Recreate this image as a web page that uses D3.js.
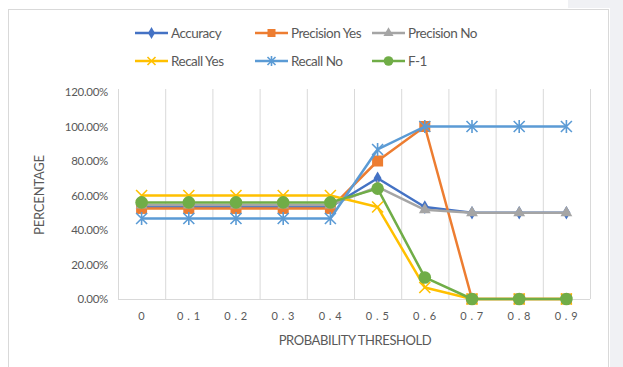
<!DOCTYPE html>
<html>
<head>
<meta charset="utf-8">
<script src="https://cdn.jsdelivr.net/npm/d3@7"></script>
<style>
  html, body { margin: 0; padding: 0; background: #ffffff; }
  svg { display: block; }
  text { font-family: Lato, "Open Sans", sans-serif; fill: #595959; }
</style>
</head>
<body>
<svg id="chart" width="623" height="367"></svg>
<script>
// Probability thresholds (categories)
const thresholds = ["0", "0.1", "0.2", "0.3", "0.4", "0.5", "0.6", "0.7", "0.8", "0.9"];

// Metric values per threshold (fractions)
const accuracy     = [0.533, 0.533, 0.533, 0.533, 0.533, 0.70, 0.533, 0.50, 0.50, 0.50];
const precisionYes = [0.525, 0.525, 0.525, 0.525, 0.525, 0.80, 1.00, 0.00, 0.00, 0.00];
const precisionNo  = [0.545, 0.545, 0.545, 0.545, 0.545, 0.65, 0.517, 0.50, 0.50, 0.50];
const recallYes    = [0.60, 0.60, 0.60, 0.60, 0.60, 0.533, 0.067, 0.00, 0.00, 0.00];
const recallNo     = [0.467, 0.467, 0.467, 0.467, 0.467, 0.867, 1.00, 1.00, 1.00, 1.00];
const f1           = [0.56, 0.56, 0.56, 0.56, 0.56, 0.64, 0.125, 0.00, 0.00, 0.00];

const yTicks = [0, 0.2, 0.4, 0.6, 0.8, 1.0, 1.2];

const series = [
  { name: "Accuracy",      values: accuracy,     color: "#4472C4", marker: "diamond" },
  { name: "Precision Yes", values: precisionYes, color: "#ED7D31", marker: "square" },
  { name: "Precision No",  values: precisionNo,  color: "#A5A5A5", marker: "triangle" },
  { name: "Recall Yes",    values: recallYes,    color: "#FFC000", marker: "x" },
  { name: "Recall No",     values: recallNo,     color: "#5B9BD5", marker: "star" },
  { name: "F-1",           values: f1,           color: "#70AD47", marker: "circle" }
];

const svg = d3.select("#chart");

// page backdrop pieces and chart frame
svg.append("rect").attr("x", 610).attr("y", 0).attr("width", 13).attr("height", 367).attr("fill", "#f0f1f4");
svg.append("rect").attr("x", 568).attr("y", 0).attr("width", 55).attr("height", 8).attr("fill", "#f0f1f4");
svg.append("rect").attr("x", 8.5).attr("y", 9.5).attr("width", 600).attr("height", 362)
  .attr("fill", "#ffffff").attr("stroke", "#d9d9d9").attr("stroke-width", 1);

const plot = { left: 118, right: 590, top: 92, bottom: 299 };

const x = d3.scaleBand().domain(thresholds).range([plot.left, plot.right]);
const y = d3.scaleLinear().domain([0, 1.2]).range([plot.bottom, plot.top]);
const cx = d => x(d) + x.bandwidth() / 2;

// vertical gridlines at category boundaries
const bounds = thresholds.map(t => x(t)).concat([plot.right]);
svg.append("g").selectAll("line").data(bounds).join("line")
  .attr("x1", d => d + 0.5).attr("x2", d => d + 0.5)
  .attr("y1", plot.top - 3).attr("y2", plot.bottom)
  .attr("stroke", "#d9d9d9").attr("stroke-width", 1);

// x axis line
svg.append("line")
  .attr("x1", plot.left).attr("x2", plot.right)
  .attr("y1", plot.bottom + 0.5).attr("y2", plot.bottom + 0.5)
  .attr("stroke", "#d9d9d9");

// y axis labels
const yAxis = d3.axisLeft(y).tickValues(yTicks).tickSize(0).tickPadding(10)
  .tickFormat(d => d3.format(".2%")(d));
const gy = svg.append("g").attr("transform", `translate(${plot.left},0)`).call(yAxis);
gy.select(".domain").remove();
gy.selectAll("text").style("font-size", "11.5px").style("fill", "#595959")
  .style("letter-spacing", "-0.3px")
  .style("font-family", "Lato, 'Open Sans', sans-serif");

// x axis labels
const xAxis = d3.axisBottom(x).tickSize(0).tickPadding(13)
  .tickFormat(d => d.split("").join(" "));
const gx = svg.append("g").attr("transform", `translate(0,${plot.bottom})`).call(xAxis);
gx.select(".domain").remove();
gx.selectAll("text").style("font-size", "11px").style("fill", "#595959")
  .style("letter-spacing", "0.5px")
  .style("font-family", "Lato, 'Open Sans', sans-serif")
  .attr("xml:space", "preserve");

// axis titles
svg.append("text").attr("x", (plot.left + plot.right) / 2 + 1).attr("y", 345)
  .attr("text-anchor", "middle").style("font-size", "13px").style("letter-spacing", "-0.4px")
  .text("PROBABILITY THRESHOLD");
svg.append("text").attr("transform", "translate(44,195) rotate(-90)")
  .attr("text-anchor", "middle").style("font-size", "13px").style("letter-spacing", "-0.2px")
  .text("PERCENTAGE");

// marker drawing helper
function drawMarker(g, type, color, size) {
  const s = size;
  if (type === "diamond") {
    g.append("path").attr("d", d3.symbol(d3.symbolDiamond, 9 * s + 5)()).attr("fill", color);
  } else if (type === "square") {
    g.append("rect").attr("x", -s).attr("y", -s).attr("width", 2 * s).attr("height", 2 * s).attr("fill", color);
  } else if (type === "triangle") {
    g.append("path").attr("d", d3.symbol(d3.symbolTriangle, 11 * s)()).attr("fill", color);
  } else if (type === "circle") {
    g.append("circle").attr("r", s + 0.8).attr("fill", color);
  } else if (type === "x") {
    g.append("path").attr("d", `M${-s},${-s}L${s},${s}M${-s},${s}L${s},${-s}`)
      .attr("stroke", color).attr("stroke-width", 1.6).attr("fill", "none");
  } else if (type === "star") {
    g.append("path").attr("d", `M${-s},${-s}L${s},${s}M${-s},${s}L${s},${-s}M0,${-s - 1}L0,${s + 1}`)
      .attr("stroke", color).attr("stroke-width", 1.6).attr("fill", "none");
  }
}

// series lines and markers
const line = d3.line().x((d, i) => cx(thresholds[i])).y(d => y(d));
series.forEach(s => {
  const g = svg.append("g");
  g.append("path").datum(s.values).attr("d", line)
    .attr("fill", "none").attr("stroke", s.color).attr("stroke-width", 2.5)
    .attr("stroke-linejoin", "round");
  s.values.forEach((v, i) => {
    const m = g.append("g").attr("transform", `translate(${cx(thresholds[i])},${y(v)})`);
    drawMarker(m, s.marker, s.color, 5.5);
  });
});

// legend
const legendPos = [
  { x: 135, y: 33 }, { x: 255, y: 33 }, { x: 372, y: 33 },
  { x: 135, y: 61 }, { x: 255, y: 61 }, { x: 372, y: 61 }
];
series.forEach((s, i) => {
  const p = legendPos[i];
  const g = svg.append("g").attr("transform", `translate(${p.x},${p.y})`);
  g.append("line").attr("x1", 0).attr("x2", 33).attr("y1", 0).attr("y2", 0)
    .attr("stroke", s.color).attr("stroke-width", 2.5);
  const m = g.append("g").attr("transform", "translate(16.5,0)");
  drawMarker(m, s.marker, s.color, 4);
  g.append("text").attr("x", 36).attr("y", 4.5).style("font-size", "13.5px")
    .style("letter-spacing", "-0.5px").text(s.name);
});
</script>
</body>
</html>
